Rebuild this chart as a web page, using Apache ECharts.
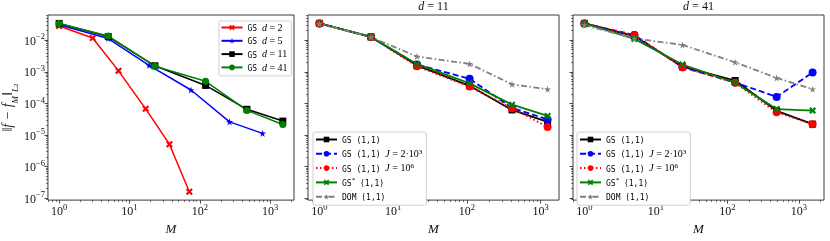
<!DOCTYPE html>
<html><head><meta charset="utf-8">
<script src="https://cdn.jsdelivr.net/npm/echarts@6/dist/echarts.min.js"></script>
<style>html,body{margin:0;padding:0;background:#fff}#c{width:830px;height:241px}</style>
</head><body><div id="c"></div>
<script>
// ---------- data ----------
// Panel 1
const M_d2   = [1, 3, 7, 17, 37, 71];
const err_d2 = [2.8e-2, 1.18e-2, 1.07e-3, 6.7e-5, 5.1e-6, 1.6e-7];
const M_d5   = [1, 5, 19, 75, 265, 780];
const err_d5 = [3.1e-2, 1.13e-2, 1.6e-3, 2.65e-4, 2.6e-5, 1.12e-5];
const M_d11  = [1, 5, 23, 121, 468, 1515];
const err_d11 = [3.4e-2, 1.3e-2, 1.55e-3, 3.7e-4, 6.5e-5, 2.75e-5];
const err_d41 = [3.4e-2, 1.35e-2, 1.5e-3, 5.0e-4, 6.0e-5, 2.15e-5];
// Panel 2 (d = 11)
const M_p2      = [1, 5, 21, 109, 410, 1245];
const p2_gs     = [3.4e-2, 1.27e-2, 1.6e-3, 3.6e-4, 6.2e-5, 2.6e-5];
const p2_gsJ2e3 = [3.4e-2, 1.27e-2, 1.7e-3, 6.0e-4, 7.2e-5, 3.1e-5];
const p2_gsJ1e6 = [3.4e-2, 1.27e-2, 1.5e-3, 3.4e-4, 7.0e-5, 1.8e-5];
const p2_gsStar = [3.4e-2, 1.27e-2, 1.77e-3, 4.3e-4, 9.1e-5, 4.0e-5];
const p2_dom    = [3.3e-2, 1.25e-2, 3.05e-3, 1.78e-3, 4.0e-4, 2.8e-4];
// Panel 3 (d = 41)
const M_p3      = [1, 5, 23.5, 128, 487, 1550];
const p3_gs     = [3.4e-2, 1.35e-2, 1.45e-3, 5.3e-4, 5.8e-5, 2.2e-5];
const p3_gsJ2e3 = [3.4e-2, 1.45e-2, 1.4e-3, 4.6e-4, 1.6e-4, 9.5e-4];
const p3_gsJ1e6 = [3.4e-2, 1.45e-2, 1.4e-3, 4.5e-4, 5.2e-5, 2.2e-5];
const p3_gsStar = [3.4e-2, 1.1e-2, 1.7e-3, 4.5e-4, 6.6e-5, 5.9e-5];
const p3_dom    = [3.0e-2, 1.13e-2, 7.1e-3, 2.0e-3, 6.4e-4, 2.8e-4];
// tick values
const xTicks = [1, 10, 100, 1000];
const yTicks = [1e-7, 1e-6, 1e-5, 1e-4, 1e-3, 1e-2];
const panelTitles = ['', '11', '41'];

// ---------- helpers ----------
function logExtent(arrs) {
  let lo = Infinity, hi = -Infinity;
  arrs.forEach(a => a.forEach(v => { const l = Math.log10(v); lo = Math.min(lo, l); hi = Math.max(hi, l); }));
  const pad = (hi - lo) * 0.05;
  return [Math.pow(10, lo - pad), Math.pow(10, hi + pad)];
}
const yExt = logExtent([err_d2, err_d5, err_d11, err_d41, p2_gs, p2_gsJ2e3, p2_gsJ1e6, p2_gsStar, p2_dom, p3_gs, p3_gsJ2e3, p3_gsJ1e6, p3_gsStar, p3_dom]);
const xExts = [logExtent([M_d2, M_d5, M_d11]), logExtent([M_p2]), logExtent([M_p3])];

const STAR = 'path://M50,0 L61.8,35.5 L99,35.5 L69,57.5 L80.5,93 L50,71 L19.5,93 L31,57.5 L1,35.5 L38.2,35.5 Z';
const XMARK = 'path://M22,0 L50,28 L78,0 L100,22 L72,50 L100,78 L78,100 L50,72 L22,100 L0,78 L28,50 L0,22 Z';
const RED = '#ff0000', BLUE = '#0000ff', BLACK = '#000000', GREEN = '#008000', GRAY = '#808080';

function ser(name, xs, ys, color, symbol, size, dash, gi, width) {
  return {
    type: 'line', name: name, xAxisIndex: gi, yAxisIndex: gi,
    data: xs.map((x, i) => [x, ys[i]]),
    symbol: symbol, symbolSize: size, showSymbol: true, showAllSymbol: true,
    lineStyle: { color: color, width: width || 1.5, type: dash || 'solid' },
    itemStyle: { color: color, borderColor: color, borderWidth: 0 },
    emphasis: { disabled: true }, animation: false, clip: false
  };
}

const supStyle = { fontSize: 7, verticalAlign: 'top', lineHeight: 7, fontFamily: 'Liberation Serif', color: '#000' };
const axisRich = {
  b: { fontSize: 12, fontFamily: 'Liberation Serif', color: '#111', lineHeight: 15, verticalAlign: 'bottom' },
  e: { fontSize: 8.5, fontFamily: 'Liberation Serif', color: '#111', lineHeight: 9, verticalAlign: 'top' }
};
function expFmt(v) {
  const e = Math.round(Math.log10(v));
  return '{b|10}{e|' + (e < 0 ? '\u2212' + (-e) : e) + '}';
}

const grids = [
  { left: 44, top: 15, width: 250, height: 195 },
  { left: 308, top: 15, width: 251, height: 195 },
  { left: 573, top: 15, width: 251, height: 195 }
].map(g => Object.assign(g, { show: true, borderColor: '#3a3a3a', borderWidth: 1, backgroundColor: 'transparent', containLabel: false }));

const tickStyle = { color: '#222', width: 0.8 };
const xAxes = [0, 1, 2].map(i => ({
  type: 'log', logBase: 10, gridIndex: i, min: xExts[i][0], max: xExts[i][1],
  axisLine: { show: false }, splitLine: { show: false },
  axisTick: { show: true, length: 3.5, inside: false, lineStyle: tickStyle, customValues: xTicks },
  minorTick: { show: true, splitNumber: 9, length: 2, lineStyle: { color: '#222', width: 0.6 } },
  axisLabel: { show: true, margin: 3, customValues: xTicks, formatter: expFmt, rich: axisRich },
  name: 'M', nameLocation: 'middle', nameGap: 14,
  nameTextStyle: { fontFamily: 'Liberation Serif', fontStyle: 'italic', fontSize: 13, color: '#111' }
}));
const yAxes = [0, 1, 2].map(i => ({
  type: 'log', logBase: 10, gridIndex: i, min: yExt[0], max: yExt[1],
  axisLine: { show: false }, splitLine: { show: false },
  axisTick: { show: true, length: 3.5, lineStyle: tickStyle, customValues: yTicks },
  minorTick: { show: true, splitNumber: 9, length: 2, lineStyle: { color: '#222', width: 0.6 } },
  axisLabel: { show: i === 0, margin: 3, customValues: yTicks, formatter: expFmt, rich: axisRich },
  name: i === 0 ? '{n|\u2016f \u2212 f}{s|M}{n|\u2016}{s|L}{ss|2}' : '',
  nameLocation: 'middle', nameGap: 26, nameRotate: 90,
  nameTextStyle: {
    color: '#111', fontSize: 14,
    rich: {
      n: { fontFamily: 'Liberation Serif', fontStyle: 'italic', fontSize: 14, lineHeight: 17, verticalAlign: 'top', color: '#111' },
      s: { fontFamily: 'Liberation Serif', fontStyle: 'italic', fontSize: 9, lineHeight: 19, verticalAlign: 'bottom', color: '#111' },
      ss: { fontFamily: 'Liberation Serif', fontSize: 7, lineHeight: 18, verticalAlign: 'bottom', color: '#111' }
    }
  }
}));

const series = [
  ser('GS d=2', M_d2, err_d2, RED, XMARK, 7, 'solid', 0),
  ser('GS d=5', M_d5, err_d5, BLUE, STAR, 7, 'solid', 0),
  ser('GS d=11', M_d11, err_d11, BLACK, 'rect', 7, 'solid', 0),
  ser('GS d=41', M_d11, err_d41, GREEN, 'circle', 7, 'solid', 0),

  ser('GS (1,1)', M_p2, p2_gs, BLACK, 'rect', 7, 'solid', 1, 1.8),
  ser('GS (1,1) J=2e3', M_p2, p2_gsJ2e3, BLUE, 'circle', 8, [6, 3], 1, 1.8),
  ser('GS (1,1) J=1e6', M_p2, p2_gsJ1e6, RED, 'circle', 8, [1.5, 2.5], 1, 2),
  ser('GS* (1,1)', M_p2, p2_gsStar, GREEN, XMARK, 7, 'solid', 1, 1.8),
  ser('DOM (1,1)', M_p2, p2_dom, GRAY, STAR, 7, [6, 2.5, 1.5, 2.5], 1, 1.8),

  ser('GS (1,1)', M_p3, p3_gs, BLACK, 'rect', 7, 'solid', 2, 1.8),
  ser('GS (1,1) J=2e3', M_p3, p3_gsJ2e3, BLUE, 'circle', 8, [6, 3], 2, 1.8),
  ser('GS (1,1) J=1e6', M_p3, p3_gsJ1e6, RED, 'circle', 8, [1.5, 2.5], 2, 2),
  ser('GS* (1,1)', M_p3, p3_gsStar, GREEN, XMARK, 7, 'solid', 2, 1.8),
  ser('DOM (1,1)', M_p3, p3_dom, GRAY, STAR, 7, [6, 2.5, 1.5, 2.5], 2, 1.8)
];

const legendLabels = {
  'GS d=2': '{tt|GS }{mi|d}{mr| = 2}',
  'GS d=5': '{tt|GS }{mi|d}{mr| = 5}',
  'GS d=11': '{tt|GS }{mi|d}{mr| = 11}',
  'GS d=41': '{tt|GS }{mi|d}{mr| = 41}',
  'GS (1,1)': '{tt|GS (1,1)}',
  'GS (1,1) J=2e3': '{tt|GS (1,1) }{mi|J}{mr| = 2\u00b710}{sup|3}',
  'GS (1,1) J=1e6': '{tt|GS (1,1) }{mi|J}{mr| = 10}{sup|6}',
  'GS* (1,1)': '{tt|GS}{sup|*}{tt| (1,1)}',
  'DOM (1,1)': '{tt|DOM (1,1)}'
};
const legendRich = {
  tt: { fontFamily: 'DejaVu Sans Mono', fontSize: 8, color: '#000', lineHeight: 11, verticalAlign: 'bottom' },
  mi: { fontFamily: 'Liberation Serif', fontStyle: 'italic', fontSize: 10, color: '#000', lineHeight: 11, verticalAlign: 'bottom' },
  mr: { fontFamily: 'Liberation Serif', fontSize: 10, color: '#000', lineHeight: 11, verticalAlign: 'bottom' },
  sup: supStyle
};
function legendBox(data, left, top, gap, pad) {
  return {
    data: data, orient: 'vertical', left: left, top: top,
    itemWidth: 21, itemHeight: 7, itemGap: gap, padding: pad,
    backgroundColor: '#fff', borderColor: '#d0d0d0', borderWidth: 1, borderRadius: 2,
    selectedMode: false, formatter: n => legendLabels[n] || n,
    textStyle: { fontSize: 9, lineHeight: 11, rich: legendRich }
  };
}
const legends = [
  legendBox(['GS d=2', 'GS d=5', 'GS d=11', 'GS d=41'], 219, 21, 2.3, [1, 4, 3, 1.5]),
  legendBox(['GS (1,1)', 'GS (1,1) J=2e3', 'GS (1,1) J=1e6', 'GS* (1,1)', 'DOM (1,1)'], 313, 132, 3.3, [2, 4, 3, 2]),
  legendBox(['GS (1,1)', 'GS (1,1) J=2e3', 'GS (1,1) J=1e6', 'GS* (1,1)', 'DOM (1,1)'], 577, 132, 3.3, [2, 4, 3, 2])
];

const titles = [1, 2].map(i => ({
  text: '{mi|d}{mr| = ' + panelTitles[i] + '}',
  left: grids[i].left + grids[i].width / 2, top: 1, textAlign: 'center', padding: 0,
  textStyle: { fontWeight: 'normal', rich: {
    mi: { fontFamily: 'Liberation Serif', fontStyle: 'italic', fontWeight: 'normal', fontSize: 12, color: '#111' },
    mr: { fontFamily: 'Liberation Serif', fontWeight: 'normal', fontSize: 12, color: '#111' }
  } }
}));

const chart = echarts.init(document.getElementById('c'), null, { renderer: 'canvas' });
chart.setOption({
  animation: false,
  backgroundColor: '#fff',
  title: titles,
  grid: grids,
  xAxis: xAxes,
  yAxis: yAxes,
  legend: legends,
  series: series
});
</script>
</body></html>
